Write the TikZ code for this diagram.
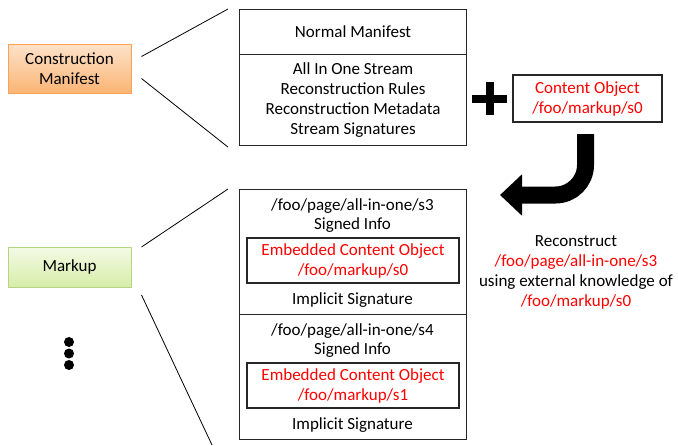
\documentclass[tikz,border=0pt]{standalone}
\usepackage{fontspec}
\setmainfont{Carlito}
\usepackage{tikz}
\usetikzlibrary{arrows.meta}
\usetikzlibrary{positioning}
\definecolor{objred}{HTML}{FF0000}
\definecolor{cmline}{HTML}{F9A35A}
\definecolor{cmtop}{HTML}{FDE2CA}
\definecolor{cmbot}{HTML}{FBB574}
\definecolor{mkline}{HTML}{B5D585}
\definecolor{mktop}{HTML}{F4FAE6}
\definecolor{mkbot}{HTML}{D6EDA8}
\tikzset{
  frame/.style={draw=black!85,line width=1.1pt,minimum width=227pt,anchor=north west,align=center},
  inbox/.style={draw=black!85,line width=1.1pt,minimum width=212pt,minimum height=45pt,align=center,text=objred},
  tag/.style={draw,line width=1pt,minimum width=123pt,align=center},
  link/.style={line width=0.8pt}
}

\begin{document}
\begin{tikzpicture}[x=1pt,y=-1pt,font=\fontsize{17}{20}\selectfont,every node/.style={inner sep=0pt}]
    \useasboundingbox (0,0) rectangle (678,445);
    \node[tag,draw=cmline,top color=cmtop,bottom color=cmbot,minimum height=49pt] (cm) at (69.5,68.5) {Construction\\Manifest};
    \node[tag,draw=mkline,top color=mktop,bottom color=mkbot,minimum height=40pt] (markup) at (69.5,267) {Markup};
    \foreach \dy in {342,353.5,365}
      \fill (69,\dy) circle (5pt);

    \node[frame,minimum height=45pt] (normal) at (239,9) {Normal Manifest};
    \node[frame,minimum height=91pt] (stream) at (239,54) {All In One Stream\\Reconstruction Rules\\Reconstruction Metadata\\Stream Signatures};

    \node[frame,minimum height=125pt] (sig3) at (239,189) {};
    \node (p3) at (352.5,206) {/foo/page/all-in-one/s3};
    \node (i3) at (352.5,225) {Signed Info};
    \node[inbox] (e3) at (353,260.5) {Embedded Content Object\\/foo/markup/s0};
    \node (g3) at (352.5,300) {Implicit Signature};

    \node[frame,minimum height=125pt] (sig4) at (239,314) {};
    \node (p4) at (352.5,331) {/foo/page/all-in-one/s4};
    \node (i4) at (352.5,350) {Signed Info};
    \node[inbox] (e4) at (353,385.5) {Embedded Content Object\\/foo/markup/s1};
    \node (g4) at (352.5,425) {Implicit Signature};

    \draw[link] ([shift={(10,-12)}]cm.east) -- ([xshift=-11pt]normal.north west);
    \draw[link] ([shift={(10,10)}]cm.east) -- ([shift={(-11,1)}]stream.south west);
    \draw[link] ([shift={(10,-20)}]markup.east) -- ([xshift=-11pt]sig3.north west);
    \coordinate (offpage) at (212,445);
    \draw[link] ([shift={(10,28)}]markup.east) -- (offpage);

    \fill (472,94.5) rectangle (507,102.5);
    \fill (485.5,82) rectangle (493.5,115);
    \node[draw=black!85,line width=1.1pt,minimum width=149pt,minimum height=47pt,align=center,text=objred] (co) at (587.5,98.5) {Content Object\\/foo/markup/s0};

    \coordinate (arrowtop) at (585.5,134);
    \coordinate (arrowtip) at (500,195);
    \draw[line width=17pt,rounded corners=30pt,-{Triangle[length=22pt,width=40pt]}] (arrowtop) |- (arrowtip);

    \node[align=center] (recon) at (576,272) {Reconstruct\\\textcolor{objred}{/foo/page/all-in-one/s3}\\using external knowledge of\\\textcolor{objred}{/foo/markup/s0}};
  \end{tikzpicture}
\end{document}
